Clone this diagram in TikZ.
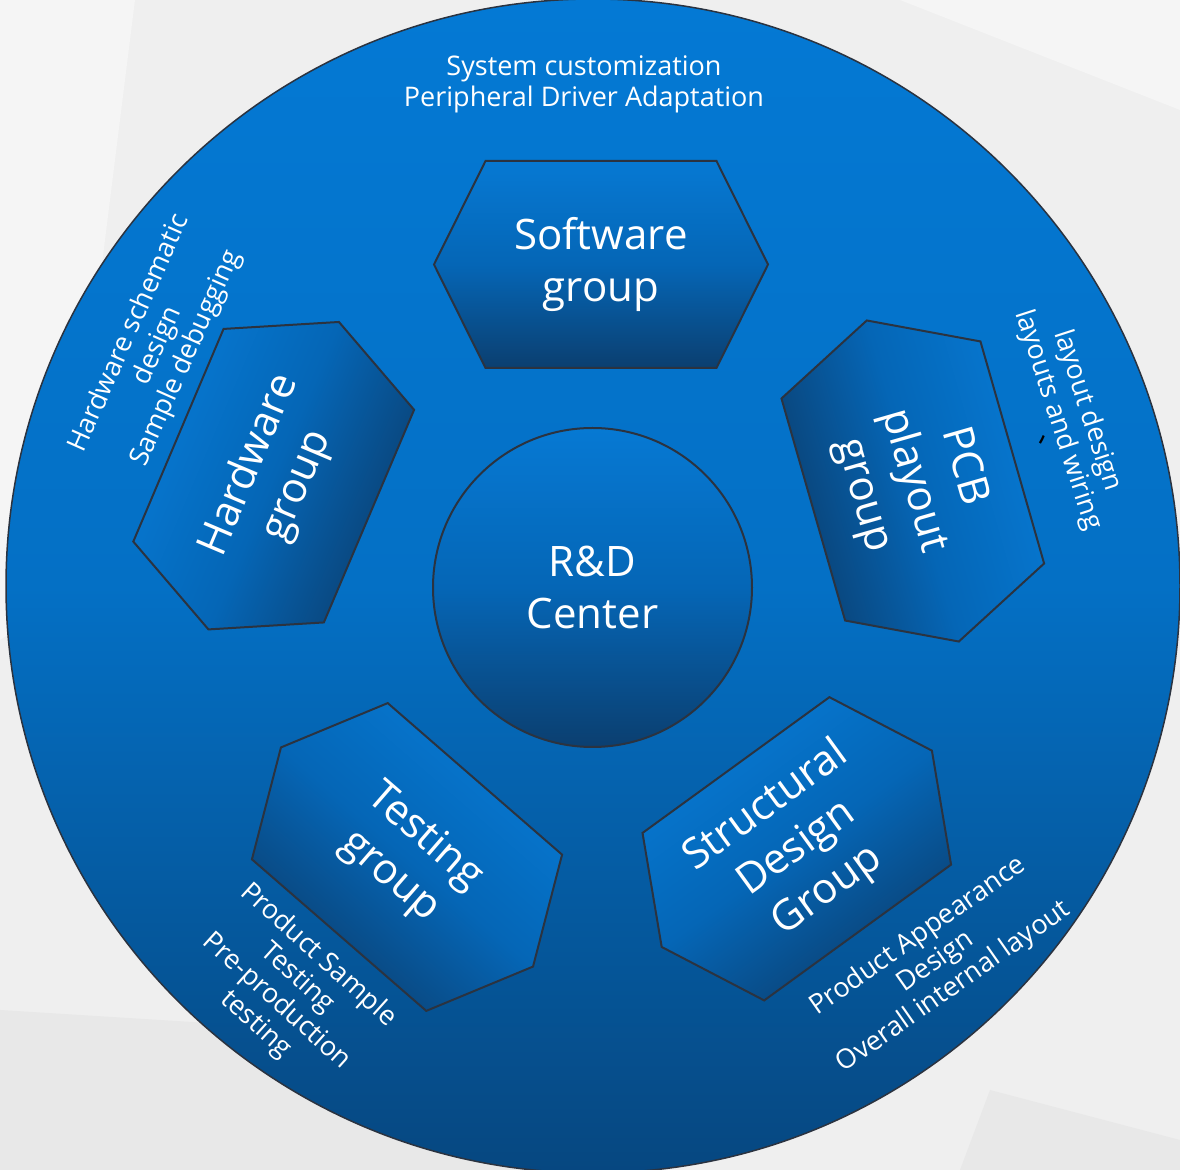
\documentclass[tikz,border=0pt]{standalone}
\usepackage{fontspec}
\setmainfont{Open Sans}
\newfontfamily\cjkfont{Noto Sans CJK SC}

\definecolor{bgGray}{HTML}{EFEFEF}
\definecolor{bgLight}{HTML}{F5F5F5}
\definecolor{bgShade}{HTML}{E8E8E8}
\definecolor{rimLine}{HTML}{2B3340}
\definecolor{discTop}{HTML}{0479D4}
\definecolor{discMid}{HTML}{0470C5}
\definecolor{discBot}{HTML}{064780}
\definecolor{hexTop}{HTML}{0679D3}
\definecolor{hexMid}{HTML}{0566B6}
\definecolor{hexBot}{HTML}{0B3F70}

\tikzset{
  hexbox/.style={draw=rimLine, line width=1pt, top color=hexTop, bottom color=hexBot, middle color=hexMid},
  grouplabel/.style={text=white, align=center, font=\fontsize{21}{26}\selectfont},
  note/.style={text=white, align=center, font=\fontsize{13.5}{15.5}\selectfont},
}

\begin{document}
\begin{tikzpicture}[x=0.5pt,y=-0.5pt]
    \useasboundingbox (0,0) rectangle (1180,1170);

    % Backdrop
    \fill[bgGray] (0,0) rectangle (1180,1170);
    \fill[bgLight] (0,0) -- (135,0) -- (60,600) -- (0,640) -- cycle;
    \fill[bgLight] (900,0) -- (1180,0) -- (1180,110) -- cycle;
    \fill[bgShade] (0,1010) -- (320,1030) -- (600,1170) -- (0,1170) -- cycle;
    \fill[bgShade] (960,1170) -- (990,1090) -- (1180,1140) -- (1180,1170) -- cycle;

    % Outer disc
    \node[circle, inner sep=0, minimum size=587pt, draw=rimLine, line width=0.75pt,
          top color=discTop, bottom color=discBot, middle color=discMid] (disc) at (593,586) {};

    % Centre
    \node[circle, inner sep=0, minimum size=159.5pt, draw=rimLine, line width=1pt,
          top color=hexTop, bottom color=hexBot, middle color=hexMid,
          grouplabel] (rdc) at (592.5,587.5) {R\&D\\Center};

    % For each group ...
    \foreach \grp/\cx/\cy/\rot/\txt in {
        sw/601/264.5/0/{Software\\group},
        hw/273.7/475.7/67/{Hardware\\group},
        pcb/912.8/481/-74/{PCB\\playout\\group},
        tst/407/857/-41/{Testing\\group},
        sdg/796.8/848.8/36/{Structural\\Design\\Group}} {
      \begin{scope}[shift={(\cx,\cy)}, rotate=\rot]
        \draw[hexbox, shading angle=\rot] (167,0) -- (115.5,103.5) -- (-115.5,103.5)
          -- (-167,0) -- (-115.5,-103.5) -- (115.5,-103.5) -- cycle;
      \end{scope}
      \node[grouplabel, rotate=\rot] (\grp) at (\cx,\cy) {\txt};
    }

    % Notes round the rim
    \node[note] (swnote) at (584,84) {System customization\\Peripheral Driver Adaptation};
    \node[note, rotate=66] (hwnote) at (158,346) {Hardware schematic\\design\\Sample debugging};
    \node[note, rotate=-72] (pcbnote) at (1072.5,415.5) {layout design\\layouts and wiring};
    \node[note, rotate=35] (sdgnote) at (936,962) {Product Appearance\\Design\\Overall internal layout};
    \node[note, rotate=-42] (tstnote) at (287,990) {Product Sample\\Testing\\Pre-production\\testing};
    \node[text=black, rotate=-72, inner sep=0, font=\cjkfont\fontsize{13.5}{15.5}\selectfont] (pcbmark) at (1045,448) {、};

  \end{tikzpicture}
\end{document}
